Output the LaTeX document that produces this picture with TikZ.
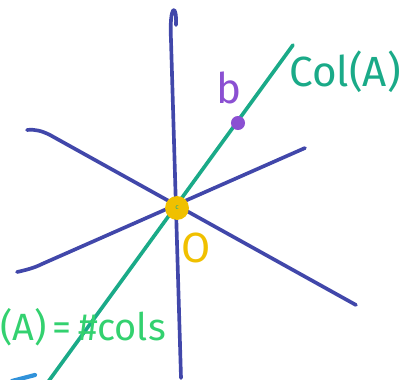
\documentclass[tikz,border=0pt]{standalone}
\usepackage{fontspec}
\setmainfont{Fira Sans}
\usetikzlibrary{positioning,calc}
\definecolor{axisblue}{HTML}{4147AA}
\definecolor{colgreen}{HTML}{1AAA88}
\definecolor{rankgreen}{HTML}{33D16F}
\definecolor{bpurple}{HTML}{8B50D2}
\definecolor{ogold}{HTML}{F0C000}
\definecolor{tipblue}{HTML}{3192DA}
\tikzset{axis/.style={draw=axisblue,line width=2.6pt,line cap=round,line join=round},colline/.style={draw=colgreen,line width=2.6pt,line cap=round},lab/.style={inner sep=0pt,font=\fontsize{30}{32}\selectfont}}
\begin{document}
\begin{tikzpicture}[x=0.025cm,y=-0.025cm]
\useasboundingbox (0,0) rectangle (402,380);
% end points of the lines
\coordinate (v1) at (181,378);\coordinate (v2) at (176,25);
\coordinate (d1) at (27,130);\coordinate (d2) at (356,305);
\coordinate (u1) at (17,272);\coordinate (u2) at (305,148);
\coordinate (g1) at (48,382);\coordinate (g2) at (293,45);
\draw[axis](v1)--(171,40) .. controls (169,4) and (177,2) .. (v2);
\draw[axis](d1) .. controls (35,129) and (42,131) .. (50,135)--(d2);
\draw[axis](u1) .. controls (26,270) and (34,268) .. (42,264)--(u2);
\draw[colline](g1)--(g2);
\node[circle,fill=ogold,minimum size=17pt,inner sep=0pt,text=colgreen,font=\fontsize{5}{5}\selectfont] (o) at (177,208) {c};
\node[circle,fill=bpurple,minimum size=10pt,inner sep=0pt] (bpt) at (238,123) {};
\node[lab,text=bpurple] (blab) at (229,88) {b};
\node[lab,text=colgreen] (col) at (345,72) {Col(A)};
\node[lab,text=ogold] (olab) at (196,248) {O};
\node[lab,text=rankgreen,anchor=west,font=\fontsize{27}{30}\selectfont] (rank) at (0,327) {(A)\,=\,\#cols};
\draw[draw=tipblue,line width=3pt,line cap=round](12,381)--(35,375);
\end{tikzpicture}
\end{document}
